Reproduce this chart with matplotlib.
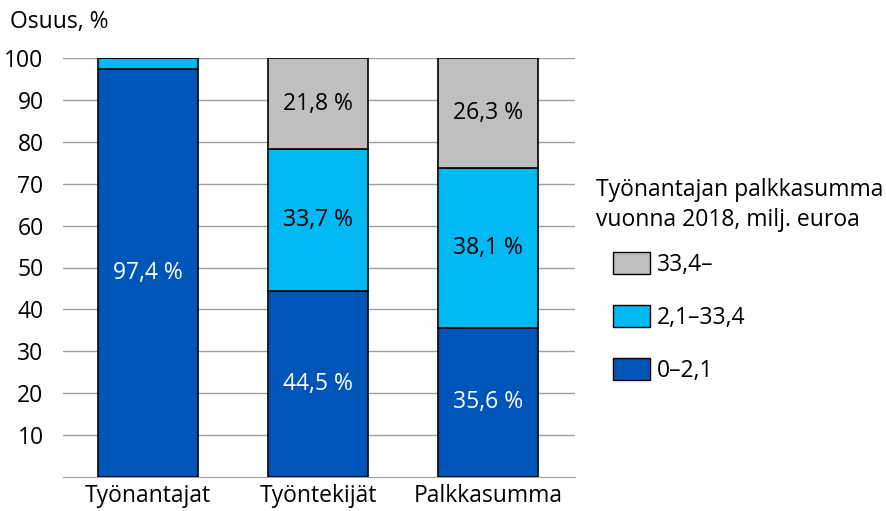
import matplotlib
matplotlib.use("Agg")
import matplotlib.pyplot as plt
from matplotlib.patches import Patch

categories = ["Työnantajat", "Työntekijät", "Palkkasumma"]
series_names = ["0–2,1", "2,1–33,4", "33,4–"]
small = [97.4, 44.5, 35.6]
medium = [2.5, 33.7, 38.1]
large = [0.1, 21.8, 26.3]
labels_small = ["97,4 %", "44,5 %", "35,6 %"]
labels_medium = ["", "33,7 %", "38,1 %"]
labels_large = ["", "21,8 %", "26,3 %"]
colors = ["#0055B8", "#00B9F2", "#BFBFBF"]
text_colors = ["white", "black", "black"]

plt.rcParams['font.family'] = ['Open Sans', 'DejaVu Sans']
FS = 16.5

fig = plt.figure(figsize=(8.87, 5.11), dpi=100)
ax = fig.add_axes([63/887, 1-477/511, (575-63)/887, (477-58)/511])

x = range(len(categories))
w = 0.588
bottoms = [0, 0, 0]
for vals, col, labs, tc in zip([small, medium, large], colors,
                               [labels_small, labels_medium, labels_large], text_colors):
    ax.bar(x, vals, w, bottom=bottoms, color=col, edgecolor="black", linewidth=1.2, zorder=3)
    for i, (b, v, l) in enumerate(zip(bottoms, vals, labs)):
        if l:
            ax.text(i, b + v/2, l, ha="center", va="center", color=tc, fontsize=FS, zorder=4)
    bottoms = [b + v for b, v in zip(bottoms, vals)]

ax.set_xlim(-0.5, 2.51)
ax.set_ylim(0, 100)
ax.set_yticks(range(10, 101, 10))
ax.set_xticks(list(x))
ax.set_xticklabels(categories, fontsize=FS)
ax.tick_params(axis="y", length=0, labelsize=FS, pad=14)
ax.tick_params(axis="x", length=0, labelsize=FS, pad=5)
ax.grid(axis="y", color="#A0A0A0", linewidth=1, zorder=0)
for s in ["left", "right", "top"]:
    ax.spines[s].set_visible(False)
ax.spines["bottom"].set_color("#A0A0A0")

fig.text(10/887, 1-22/511, "Osuus, %", fontsize=FS, va="center", ha="left")

fig.text(596/887, 1-190/511, "Työnantajan palkkasumma", fontsize=FS, va="center", ha="left")
fig.text(596/887, 1-220/511, "vuonna 2018, milj. euroa", fontsize=FS, va="center", ha="left")
handles = [Patch(facecolor=colors[2], edgecolor="black"),
           Patch(facecolor=colors[1], edgecolor="black"),
           Patch(facecolor=colors[0], edgecolor="black")]
fig.legend(handles, [series_names[2], series_names[1], series_names[0]],
           loc="upper left", bbox_to_anchor=(613/887, 1-252/511), frameon=False,
           borderpad=0, borderaxespad=0,
           fontsize=FS, handlelength=1.6, handleheight=1.1, labelspacing=1.24, handletextpad=0.3)

fig.savefig("out.png", dpi=100)
